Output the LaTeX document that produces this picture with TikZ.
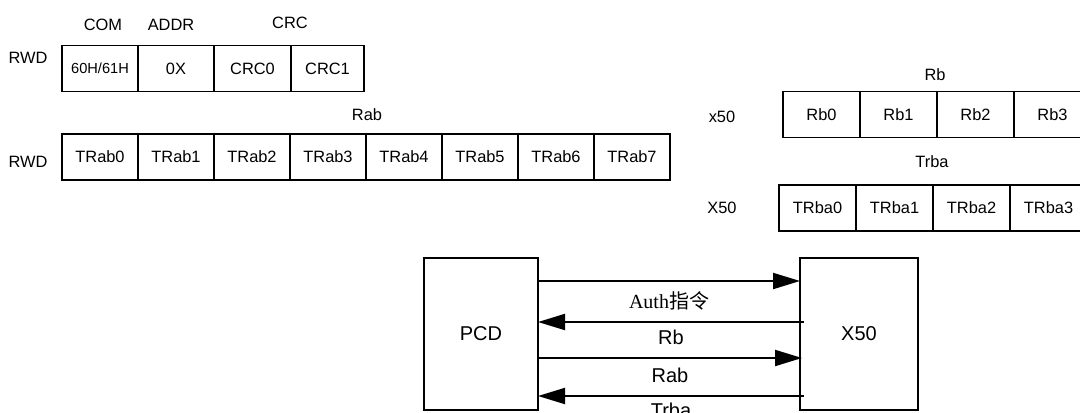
\documentclass[tikz,border=0pt]{standalone}
\usepackage{fontspec}
\setmainfont{Liberation Sans}
\newfontfamily\serifcn{Liberation Serif}
\newfontfamily\cjk{Noto Sans CJK SC}
\usetikzlibrary{positioning,arrows.meta}
\tikzset{
  every node/.style={font=\fontsize{8.2}{10}\selectfont},
  % --- frame cells
  cell/.style  = {draw=black, line width=0.9pt, minimum width=38pt, minimum height=23pt,
                  inner sep=0pt, outer sep=0pt},
  wcell/.style = {cell, minimum width=38.5pt},
  lbl/.style   = {inner sep=0pt},
  % --- sequence part
  dev/.style   = {draw=black, line width=0.9pt, minimum height=76pt, inner sep=0pt,
                  outer sep=0pt, font=\fontsize{10}{12}\selectfont},
  fwd/.style   = {-{Triangle[length=13.5pt,width=8pt]}, line width=1pt},
  msg/.style   = {inner sep=0pt, font=\fontsize{10}{12}\selectfont},
}
\begin{document}
\begin{tikzpicture}[x=0.5pt,y=-0.5pt]
  \useasboundingbox (0,0) rectangle (1080,412);
  \clip (0,0) rectangle (1080,412);

  % --- RWD command frame
  \node[lbl] (rwd1) at (28,58) {RWD};
  \node[cell, anchor=west] (com) at (62,68.5) {\fontsize{7.3}{9}\selectfont 60H/61H};
  \node[cell, right=0pt of com] (addr) {0X};
  \node[wcell, right=0pt of addr] (crc0) {CRC0};
  \node[cell, minimum width=36.5pt, right=0pt of crc0] (crc1) {CRC1};
  \node[lbl] (lcom) at (103,25) {COM};
  \node[lbl] (laddr) at (171,25) {ADDR};
  \node[lbl] (lcrc) at (290,23) {CRC};

  % --- RWD Rab frame
  \node[lbl] (rwd2) at (28,162) {RWD};
  \node[cell, anchor=west] (rab0) at (62,157) {TRab0};
  \node[cell, right=0pt of rab0] (rab1) {TRab1};
  \node[cell, right=0pt of rab1] (rab2) {TRab2};
  \node[cell, right=0pt of rab2] (rab3) {TRab3};
  \node[cell, right=0pt of rab3] (rab4) {TRab4};
  \node[cell, right=0pt of rab4] (rab5) {TRab5};
  \node[cell, right=0pt of rab5] (rab6) {TRab6};
  \node[cell, right=0pt of rab6] (rab7) {TRab7};
  \node[lbl] (lrab) at (367,115) {Rab};

  % --- x50 Rb frame
  \node[lbl] (xa) at (722,117) {x50};
  \node[wcell, anchor=west] (rb0) at (783,114.5) {Rb0};
  \node[wcell, right=0pt of rb0] (rb1) {Rb1};
  \node[wcell, right=0pt of rb1] (rb2) {Rb2};
  \node[wcell, right=0pt of rb2] (rb3) {Rb3};
  \node[lbl] (lrb) at (935,75) {Rb};

  % --- X50 Trba frame
  \node[lbl] (xb) at (722,208) {X50};
  \node[wcell, anchor=west] (trba0) at (779,208) {TRba0};
  \node[wcell, right=0pt of trba0] (trba1) {TRba1};
  \node[wcell, right=0pt of trba1] (trba2) {TRba2};
  \node[wcell, right=0pt of trba2] (trba3) {TRba3};
  \node[lbl] (ltrba) at (932,162) {Trba};

  % --- authentication sequence
  \node[dev, minimum width=57pt] (pcd) at (481,334) {PCD};
  \node[dev, minimum width=59pt] (x50) at (859,334) {X50};
  \draw[fwd] ([yshift=-11.5pt]pcd.north east) -- ([yshift=-11.5pt]x50.north west)
    node[msg, midway, below=5pt] {\serifcn Auth\cjk 指令};
  \draw[fwd] ([xshift=2pt,yshift=-32pt]x50.north west) -- ([yshift=-32pt]pcd.north east)
    node[msg, midway, below=3.5pt] {Rb};
  \draw[fwd] ([yshift=-50pt]pcd.north east) -- ([xshift=1pt,yshift=-50pt]x50.north west)
    node[msg, midway, below=4.5pt] {Rab};
  \draw[fwd] ([xshift=2pt,yshift=-69pt]x50.north west) -- ([yshift=-69pt]pcd.north east)
    node[msg, midway, below=3pt] {Trba};
\end{tikzpicture}
\end{document}
